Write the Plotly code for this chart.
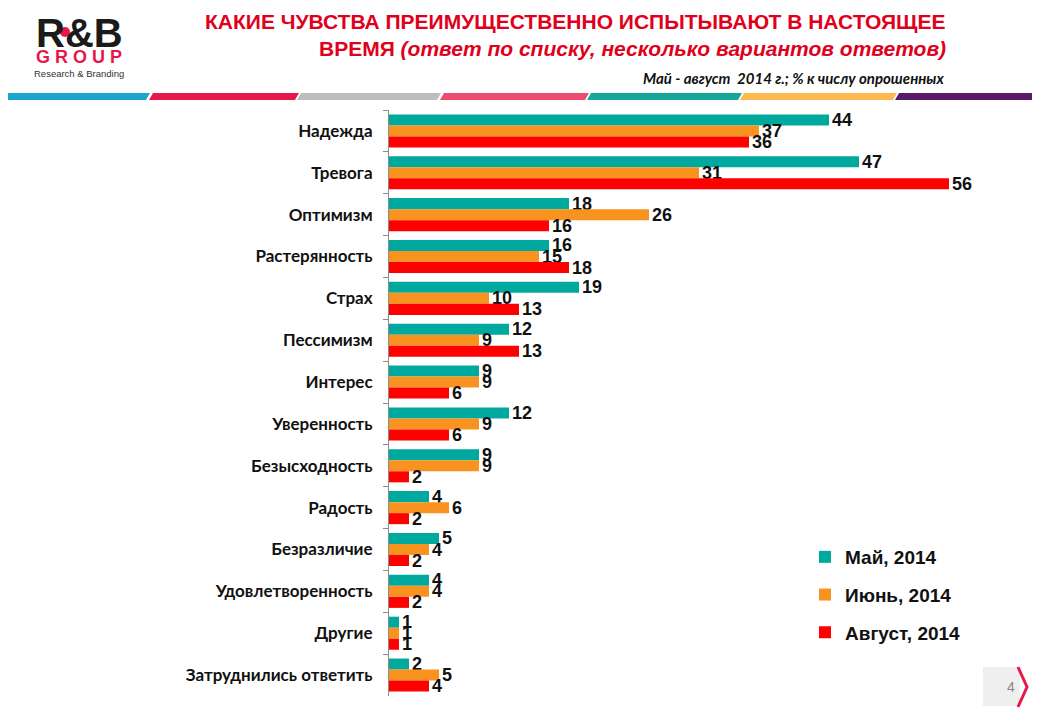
import plotly.graph_objects as go

# data
categories = ["Надежда", "Тревога", "Оптимизм", "Растерянность", "Страх", "Пессимизм",
              "Интерес", "Уверенность", "Безысходность", "Радость", "Безразличие",
              "Удовлетворенность", "Другие", "Затруднились ответить"]
may_2014 = [44, 47, 18, 16, 19, 12, 9, 12, 9, 4, 5, 4, 1, 2]
june_2014 = [37, 31, 26, 15, 10, 9, 9, 9, 9, 6, 4, 4, 1, 5]
aug_2014 = [36, 56, 16, 18, 13, 13, 6, 6, 2, 2, 2, 2, 1, 4]
series_names = ["Май, 2014", "Июнь, 2014", "Август, 2014"]

# page has an 8px body margin, so the figure is drawn 8px in
OFF = 8
W, H = 1040 - OFF, 718 - OFF


def px(x):
    # page pixel -> paper x
    return (x - OFF) / W


def py(y):
    # page pixel -> paper y
    return 1 - (y - OFF) / H


colors = ["#00A99D", "#F7931E", "#FF0000"]

fig = go.Figure()
for i, (name, vals) in enumerate(zip(series_names, [may_2014, june_2014, aug_2014])):
    fig.add_trace(go.Bar(
        y=categories, x=vals, name=name, orientation="h",
        marker=dict(color=colors[i], line=dict(width=0)),
        text=vals, textposition="outside", constraintext="none", cliponaxis=False,
        textfont=dict(family="Liberation Sans", size=18, color="#111111", weight="bold"),
        legendgroup=name,
    ))

# header stripe
stripe = [(0, 146, "#1AA6D0"), (149, 295, "#E8174B"), (297, 437, "#BDBDC0"),
          (440, 585, "#EE4B70"), (587, 738, "#16A69A"), (740, 893, "#FDB94F"),
          (895, 1045, "#5A1A6A")]
shapes = []
for a, b, c in stripe:
    path = "M {} {} L {} {} L {} {} L {} {} Z".format(
        px(a), py(100), px(b), py(100), px(b + 4), py(93), px(a + 4), py(93))
    shapes.append(dict(type="path", path=path, xref="paper", yref="paper",
                       fillcolor=c, line=dict(width=0), layer="above"))

# logo dot
shapes.append(dict(type="circle", xref="paper", yref="paper",
                   x0=px(60), x1=px(70), y0=py(37), y1=py(27),
                   fillcolor="#E8174B", line=dict(width=0)))
# page number box
shapes.append(dict(type="rect", xref="paper", yref="paper",
                   x0=px(983), x1=px(1020), y0=py(706), y1=py(667),
                   fillcolor="#EFEFEF", line=dict(width=0)))
shapes.append(dict(type="path", xref="paper", yref="paper",
                   path="M {} {} L {} {} L {} {}".format(px(1018), py(667), px(1027), py(687),
                                                          px(1018), py(707)),
                   line=dict(color="#E8174B", width=3)))

annotations = [
    dict(text="КАКИЕ ЧУВСТВА ПРЕИМУЩЕСТВЕННО ИСПЫТЫВАЮТ В НАСТОЯЩЕЕ",
         x=px(948), y=py(22), xanchor="right", yanchor="middle",
         font=dict(family="Liberation Sans", size=21, color="#E0001B", weight="bold")),
    dict(text="ВРЕМЯ <i>(ответ по списку, несколько вариантов ответов)</i>",
         x=px(948), y=py(48), xanchor="right", yanchor="middle",
         font=dict(family="Liberation Sans", size=21, color="#E0001B", weight="bold")),
    dict(text="<i>Май - август  2014 г.; % к числу опрошенных</i>",
         x=px(946), y=py(78), xanchor="right", yanchor="middle",
         font=dict(family="Lato", size=15, color="#111111", weight="bold")),
    dict(text="R&amp;B", x=px(79), y=py(33), xanchor="center", yanchor="middle",
         font=dict(family="Liberation Sans", size=40, color="#1A1A1A", weight="bold")),
    dict(text="G\u00a0R\u00a0O\u00a0U\u00a0P", x=px(79), y=py(57), xanchor="center", yanchor="middle",
         font=dict(family="Liberation Sans", size=18, color="#E8174B", weight="bold")),
    dict(text="Research &amp; Branding", x=px(79), y=py(74), xanchor="center", yanchor="middle",
         font=dict(family="Liberation Sans", size=9.5, color="#333333")),
    dict(text="4", x=px(1011), y=py(687), xanchor="center", yanchor="middle",
         font=dict(family="Liberation Sans", size=14, color="#888888")),
]
for a in annotations:
    a.update(xref="paper", yref="paper", showarrow=False)

fig.update_layout(
    width=W, height=H,
    margin=dict(l=0, r=0, t=0, b=0),
    paper_bgcolor="white", plot_bgcolor="white",
    barmode="group", bargap=0.21, bargroupgap=0,
    showlegend=True,
    legend=dict(x=px(805), y=py(538), xanchor="left", yanchor="top",
                font=dict(family="Liberation Sans", size=19, color="#111111", weight="bold"),
                tracegroupgap=10, bgcolor="rgba(0,0,0,0)"),
    xaxis=dict(domain=[px(389), px(989)], range=[0, 60], visible=False),
    yaxis=dict(domain=[py(696), py(110)], autorange="reversed",
               showline=True, linecolor="#8C8C8C", linewidth=1,
               ticks="outside", ticklen=5, tickcolor="#8C8C8C", tickson="boundaries",
               ticklabelstandoff=12, showgrid=False,
               tickfont=dict(family="Lato", size=17, color="#111111", weight="bold")),
    shapes=shapes, annotations=annotations,
)

fig.write_html("out.html")
